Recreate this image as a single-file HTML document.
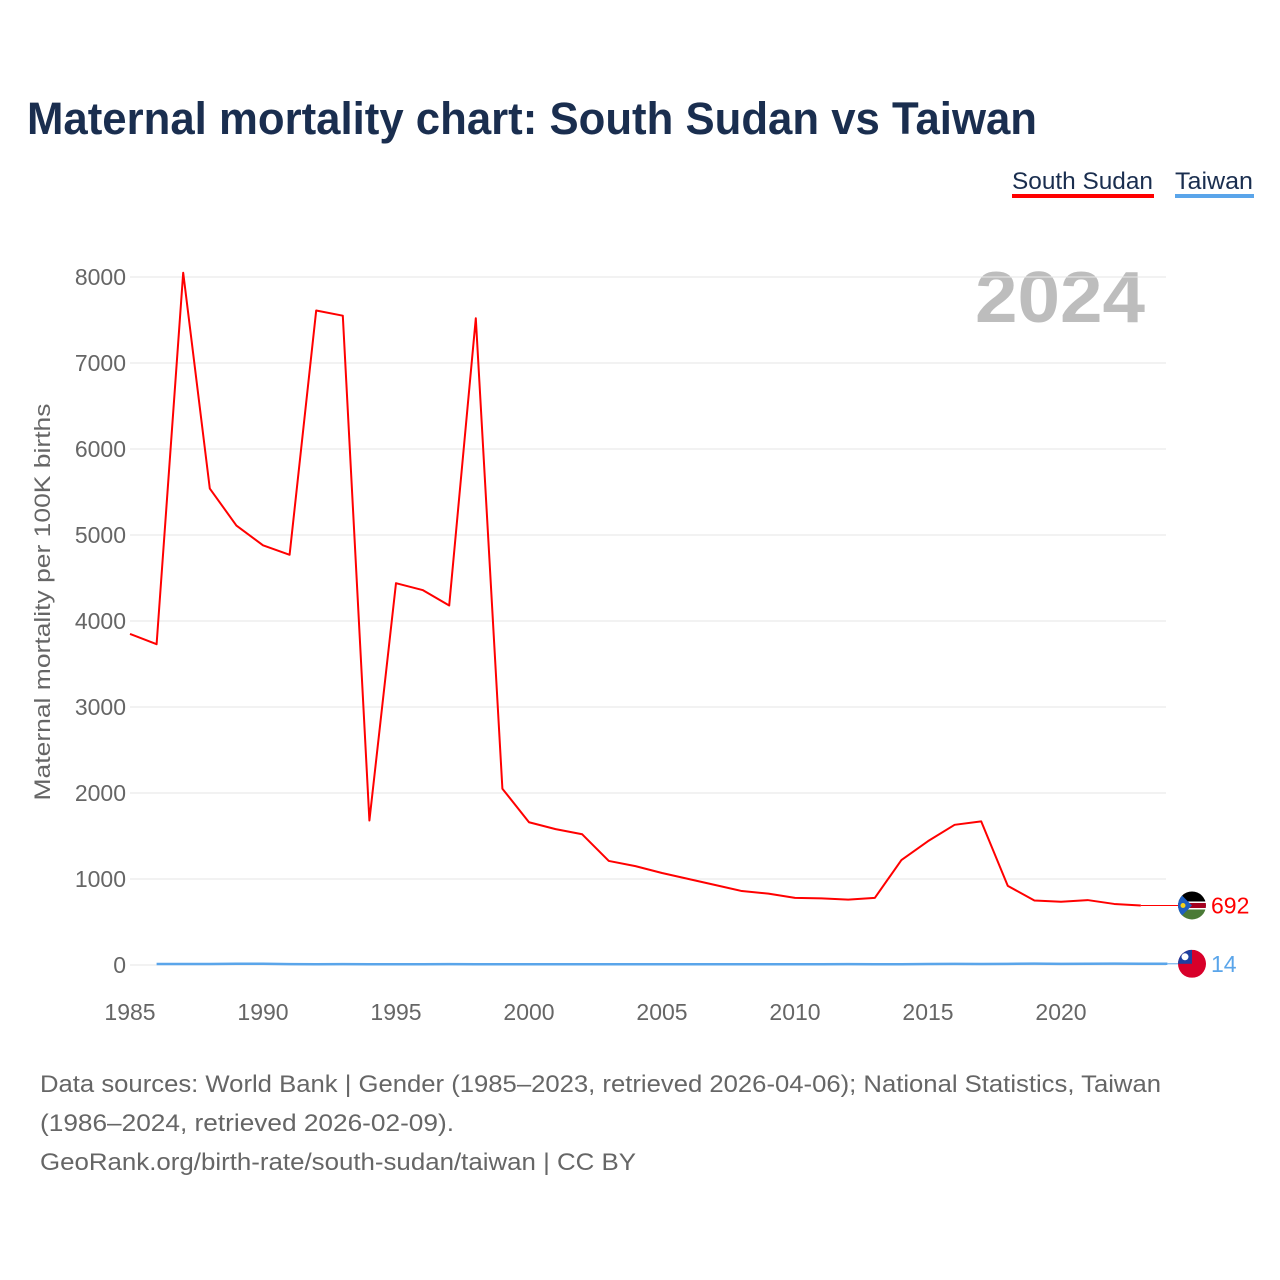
<!DOCTYPE html>
<html><head><meta charset="utf-8"><style>
body{margin:0;background:#fff;font-family:"Liberation Sans",sans-serif;}
#wrap{position:relative;width:1280px;height:1280px;overflow:hidden}
</style></head><body><div id="wrap">
<svg id="chart" width="1280" height="1280" style="position:absolute;left:0;top:0">
<text x="27" y="134" font-size="45" font-weight="bold" fill="#1a2e4f" textLength="1010" lengthAdjust="spacingAndGlyphs">Maternal mortality chart: South Sudan vs Taiwan</text>
<g><text x="1012" y="189" font-size="24" fill="#1a2e4f" textLength="141" lengthAdjust="spacingAndGlyphs">South Sudan</text><rect x="1012" y="194" width="142" height="4" fill="#ff0000"/></g>
<g><text x="1175" y="189" font-size="24" fill="#1a2e4f" textLength="78" lengthAdjust="spacingAndGlyphs">Taiwan</text><rect x="1175" y="194" width="79" height="4" fill="#5aa5ea"/></g>
<text x="975" y="322" font-size="72" font-weight="bold" fill="#bdbdbd" textLength="170" lengthAdjust="spacingAndGlyphs">2024</text>
<text transform="translate(50,602) rotate(-90)" font-size="22" fill="#666" text-anchor="middle" textLength="397" lengthAdjust="spacingAndGlyphs">Maternal mortality per 100K births</text>
<g id="grid"></g><g id="xt"></g><g id="lines"></g>
<text x="40" y="1092" font-size="24" fill="#666" textLength="1121" lengthAdjust="spacingAndGlyphs">Data sources: World Bank | Gender (1985–2023, retrieved 2026-04-06); National Statistics, Taiwan</text>
<text x="40" y="1131" font-size="24" fill="#666" textLength="414" lengthAdjust="spacingAndGlyphs">(1986–2024, retrieved 2026-02-09).</text>
<text x="40" y="1170" font-size="24" fill="#666" textLength="596" lengthAdjust="spacingAndGlyphs">GeoRank.org/birth-rate/south-sudan/taiwan | CC BY</text>
</svg></div>
<script>
const yTicks=[0,1000,2000,3000,4000,5000,6000,7000,8000];
const xTicks=[1985,1990,1995,2000,2005,2010,2015,2020];
const ssYears=[1985,1986,1987,1988,1989,1990,1991,1992,1993,1994,1995,1996,1997,1998,1999,2000,2001,2002,2003,2004,2005,2006,2007,2008,2009,2010,2011,2012,2013,2014,2015,2016,2017,2018,2019,2020,2021,2022,2023];
const ssValues=[3850,3730,8050,5540,5110,4880,4770,7610,7550,1680,4440,4360,4180,7520,2050,1660,1580,1520,1210,1150,1070,1000,930,860,830,780,775,760,780,1220,1440,1630,1670,920,750,735,755,710,692];
const twYears=[1986,1987,1988,1989,1990,1991,1992,1993,1994,1995,1996,1997,1998,1999,2000,2001,2002,2003,2004,2005,2006,2007,2008,2009,2010,2011,2012,2013,2014,2015,2016,2017,2018,2019,2020,2021,2022,2023,2024];
const twValues=[12,12,11,14,14,10,8,10,9,9,9,10,9,8,8,8,8,8,8,8,8,9,9,9,9,8,10,9,8,12,13,12,13,16,13,14,16,15,14];
const NS='http://www.w3.org/2000/svg';
const X=y=>130+(y-1985)*(1061-130)/35;
const Y=v=>965-v*0.086;
function mk(t,a,p){const e=document.createElementNS(NS,t);for(const k in a)e.setAttribute(k,a[k]);p.appendChild(e);return e;}
const grid=document.getElementById('grid'),xt=document.getElementById('xt'),lines=document.getElementById('lines');
yTicks.forEach(v=>{
 const l=mk('line',{x1:130,x2:1166,y1:Y(v),y2:Y(v),stroke:'#e6e6e6','stroke-width':1},grid);
 
 
 const t=mk('text',{x:126,y:Y(v)+8,'font-size':23,fill:'#666','text-anchor':'end'},grid);t.textContent=v;
 
 
});
xTicks.forEach(v=>{
 const t=mk('text',{x:X(v),y:1020,'font-size':23,fill:'#666','text-anchor':'middle'},xt);t.textContent=v;
 
 
});
function series(ys,vs,col,w,name){
 const p=mk('polyline',{points:ys.map((y,i)=>X(y)+','+Y(vs[i])).join(' '),fill:'none',stroke:col,'stroke-width':w,'stroke-linejoin':'round'},lines);
 
 
}
series(twYears,twValues,'#5aa5ea',2.5,'taiwan-line');
series(ssYears,ssValues,'#ff0000',2,'south-sudan-line');
const fx=1192;
const ssLast=ssValues[ssValues.length-1],twLast=twValues[twValues.length-1];
mk('line',{x1:X(ssYears[ssYears.length-1]),x2:fx-14,y1:Y(ssLast),y2:Y(ssLast),stroke:'#ff0000','stroke-width':1},lines);
mk('line',{x1:X(twYears[twYears.length-1]),x2:fx-14,y1:Y(twLast),y2:Y(twLast),stroke:'#5aa5ea','stroke-width':1},lines);
const sy=Y(ssLast);
const g1=mk('g',{},lines);


const cp1=mk('clipPath',{id:'c1'},g1);mk('circle',{cx:fx,cy:sy,r:14},cp1);
const f1=mk('g',{'clip-path':'url(#c1)'},g1);
mk('rect',{x:fx-14,y:sy-14,width:28,height:10,fill:'#000'},f1);
mk('rect',{x:fx-14,y:sy-4,width:28,height:8,fill:'#fff'},f1);
mk('rect',{x:fx-14,y:sy-2.5,width:28,height:5,fill:'#a3001f'},f1);
mk('rect',{x:fx-14,y:sy+4,width:28,height:10,fill:'#4a7a36'},f1);
mk('polygon',{points:`${fx-14},${sy-14} ${fx},${sy} ${fx-14},${sy+14}`,fill:'#1f5fc0'},f1);
mk('circle',{cx:fx-9,cy:sy,r:2.5,fill:'#f5d21a'},f1);
const t1=mk('text',{x:1211,y:sy+8,'font-size':23,fill:'#ff0000'},lines);t1.textContent=ssLast;


const ty=Y(twLast);
const g2=mk('g',{},lines);


const cp=mk('clipPath',{id:'c2'},g2);mk('circle',{cx:fx,cy:ty,r:14},cp);
const f2=mk('g',{'clip-path':'url(#c2)'},g2);
mk('rect',{x:fx-14,y:ty-14,width:28,height:28,fill:'#d8002a'},f2);
mk('rect',{x:fx-14,y:ty-14,width:14,height:14,fill:'#1e40a0'},f2);
mk('circle',{cx:fx-7,cy:ty-7,r:3.5,fill:'#fff'},f2);
const t2=mk('text',{x:1211,y:ty+8,'font-size':23,fill:'#5aa5ea'},lines);t2.textContent=twLast;


</script></body></html>
